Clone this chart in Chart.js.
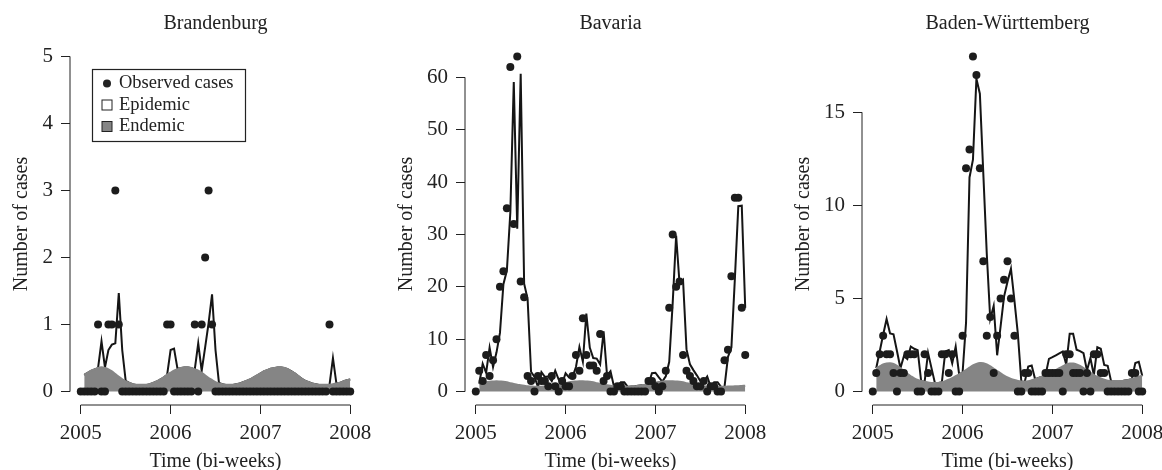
<!DOCTYPE html>
<html>
<head>
<meta charset="utf-8">
<script src="https://cdn.jsdelivr.net/npm/chart.js@4.4.1/dist/chart.umd.min.js"></script>
<style>
  html, body { margin: 0; padding: 0; background: #fff; }
  #wrap { position: relative; width: 1162px; height: 470px; overflow: hidden; }
  canvas { position: absolute; top: 0; }
</style>
</head>
<body>
<div id="wrap">
  <canvas id="c1" width="387" height="470" style="left:0px"></canvas>
  <canvas id="c2" width="388" height="470" style="left:387px"></canvas>
  <canvas id="c3" width="387" height="470" style="left:775px"></canvas>
</div>
<script>
// bi-weekly series, 26 per year, first value at 2005
const startYear = 2005;
const perYear = 26;
const xTicks = [2005, 2006, 2007, 2008];

// Brandenburg
const bbObserved = [
  0, 0, 0, 0, 0, 1, 0, 0, 1, 1, 3, 1, 0,
  0, 0, 0, 0, 0, 0, 0, 0, 0, 0, 0, 0, 1,
  1, 0, 0, 0, 0, 0, 0, 1, 0, 1, 2, 3, 1,
  0, 0, 0, 0, 0, 0, 0, 0, 0, 0, 0, 0, 0,
  0, 0, 0, 0, 0, 0, 0, 0, 0, 0, 0, 0, 0,
  0, 0, 0, 0, 0, 0, 0, 1, 0, 0, 0, 0, 0,
  0
];
const bbEndemic = [
  null, .25, .28, .31, .33, .35, .36, .35, .33, .30, .26, .22, .18,
  .15, .13, .11, .10, .10, .10, .10, .11, .13, .15, .18, .21, .25,
  .28, .31, .33, .35, .36, .36, .35, .33, .31, .28, .24, .20, .17,
  .14, .12, .11, .10, .10, .10, .11, .12, .14, .16, .18, .21, .24,
  .27, .30, .32, .34, .35, .36, .36, .35, .33, .30, .27, .23, .19,
  .16, .14, .12, .11, .10, .10, .10, .10, .11, .12, .13, .15, .17,
  .18
];
const bbFitted = [
  null, .25, .28, .31, .33, .35, .75, .36, .62, .70, .72, 1.47, .62,
  .16, .13, .11, .10, .10, .10, .10, .11, .13, .15, .18, .21, .25,
  .62, .64, .34, .35, .36, .36, .35, .33, .72, .31, .66, 1.02, 1.45,
  .62, .13, .11, .10, .10, .10, .11, .12, .14, .16, .18, .21, .24,
  .27, .30, .32, .34, .35, .36, .36, .35, .33, .30, .27, .23, .19,
  .16, .14, .12, .11, .10, .10, .10, .10, .50, .12, .13, .15, .17,
  .18
];

// Bavaria
const byObserved = [
  0, 4, 2, 7, 3, 6, 10, 20, 23, 35, 62, 32, 64,
  21, 18, 3, 2, 0, 3, 2, 2, 1, 3, 1, 0, 2,
  1, 1, 3, 7, 4, 14, 7, 5, 5, 4, 11, 2, 3,
  0, 0, 1, 1, 0, 0, 0, 0, 0, 0, 0, 2, 2,
  1, 0, 1, 4, 16, 30, 20, 21, 7, 4, 3, 2, 1,
  1, 2, 0, 1, 1, 0, 0, 6, 8, 22, 37, 37, 16,
  7
];
const byEndemic = [
  null, 1.5, 1.6, 1.75, 1.85, 1.9, 1.95, 1.9, 1.85, 1.75, 1.6, 1.45, 1.3,
  1.2, 1.1, 1.0, 0.95, 0.9, 0.9, 0.9, 0.95, 1.0, 1.1, 1.2, 1.35, 1.5,
  1.6, 1.75, 1.85, 1.9, 1.95, 1.95, 1.9, 1.85, 1.75, 1.6, 1.45, 1.3, 1.2,
  1.1, 1.0, 0.95, 0.9, 0.9, 0.9, 0.95, 1.0, 1.1, 1.2, 1.3, 1.45, 1.6,
  1.7, 1.8, 1.9, 1.95, 1.95, 1.95, 1.9, 1.85, 1.75, 1.6, 1.45, 1.3, 1.15,
  1.05, 1.0, 0.95, 0.9, 0.9, 0.9, 0.9, 0.9, 0.95, 0.95, 1.0, 1.0, 1.05,
  1.1
];
const byFitted = [
  null, 1.5, 5.3, 3.6, 8.4, 4.7, 7.5, 11.2, 20.5, 23.1, 34.2, 59.1, 31.1,
  60.7, 20.6, 17.7, 3.8, 2.8, 0.9, 3.7, 2.8, 2.9, 2.0, 4.0, 2.3, 1.5,
  3.5, 2.7, 2.8, 4.7, 8.5, 5.7, 14.9, 8.4, 6.4, 6.3, 5.2, 11.5, 3.1,
  3.9, 1.0, 0.95, 1.8, 1.8, 0.9, 0.95, 1.0, 1.1, 1.2, 1.3, 1.45, 3.5,
  3.6, 2.7, 1.9, 2.9, 5.7, 16.9, 29.8, 20.5, 21.3, 8.1, 5.2, 4.1, 3.1,
  2.0, 1.9, 2.9, 0.9, 1.8, 1.8, 0.9, 0.9, 6.6, 8.4, 21.5, 35.4, 35.5,
  16.0
];

// Baden-Württemberg
const bwObserved = [
  0, 1, 2, 3, 2, 2, 1, 0, 1, 1, 2, 2, 2,
  0, 0, 2, 1, 0, 0, 0, 2, 2, 1, 2, 0, 0,
  3, 12, 13, 18, 17, 12, 7, 3, 4, 1, 3, 5, 6,
  7, 5, 3, 0, 0, 1, 1, 0, 0, 0, 0, 1, 1,
  1, 1, 1, 0, 2, 2, 1, 1, 1, 0, 1, 0, 2,
  2, 1, 1, 0, 0, 0, 0, 0, 0, 0, 1, 1, 0,
  0
];
const bwEndemic = [
  null, 1.25, 1.35, 1.45, 1.5, 1.52, 1.48, 1.38, 1.25, 1.1, 0.95, 0.82, 0.7,
  0.62, 0.56, 0.52, 0.48, 0.46, 0.45, 0.46, 0.5, 0.56, 0.63, 0.72, 0.82, 0.92,
  1.02, 1.15, 1.28, 1.4, 1.48, 1.53, 1.52, 1.45, 1.35, 1.22, 1.1, 0.98, 0.86,
  0.76, 0.68, 0.62, 0.57, 0.54, 0.53, 0.55, 0.6, 0.66, 0.73, 0.8, 0.88, 0.96,
  1.05, 1.15, 1.25, 1.35, 1.45, 1.5, 1.5, 1.45, 1.37, 1.26, 1.13, 1.0, 0.88,
  0.78, 0.7, 0.63, 0.58, 0.55, 0.54, 0.54, 0.56, 0.59, 0.62, 0.67, 0.73, 0.8,
  0.85
];
const bwFitted = [
  null, 1.25, 2.15, 3.05, 3.9, 3.12, 3.08, 2.18, 1.25, 1.9, 1.75, 2.42, 2.3,
  2.22, 0.56, 0.52, 2.08, 1.26, 0.45, 0.46, 0.5, 2.16, 2.23, 1.52, 2.42, 0.92,
  1.02, 3.7, 11.5, 12.45, 16.8, 16.0, 11.7, 7.4, 3.9, 4.6, 1.95, 3.5, 5.1,
  5.9, 6.6, 4.9, 3.1, 0.54, 0.53, 1.35, 1.4, 0.66, 0.73, 0.8, 0.88, 1.76,
  1.85, 1.95, 2.05, 2.15, 1.45, 3.1, 3.1, 2.25, 2.17, 2.06, 1.13, 1.8, 0.88,
  2.38, 2.3, 1.43, 1.38, 0.55, 0.54, 0.54, 0.56, 0.59, 0.62, 0.67, 1.53, 1.6,
  0.85
];

const legendLabels = ['Observed cases', 'Epidemic', 'Endemic'];

const INK = '#222';
const GRAY = '#858585';
const SERIF = '"Liberation Serif", "Times New Roman", serif';

const panels = [
  { canvas: 'c1', title: 'Brandenburg', obs: bbObserved, fit: bbFitted, end: bbEndemic,
    yTicks: [0, 1, 2, 3, 4, 5], yMin: -0.2, yMax: 5.2,
    axisWidth: 70, padRight: 26, yTitlePad: 11.5, legend: true },
  { canvas: 'c2', title: 'Bavaria', obs: byObserved, fit: byFitted, end: byEndemic,
    yTicks: [0, 10, 20, 30, 40, 50, 60], yMin: -2.56, yMax: 66.56,
    axisWidth: 78, padRight: 19, yTitlePad: 10, legend: false },
  { canvas: 'c3', title: 'Baden-Württemberg', obs: bwObserved, fit: bwFitted, end: bwEndemic,
    yTicks: [0, 5, 10, 15], yMin: -0.72, yMax: 18.72,
    axisWidth: 87, padRight: 9, yTitlePad: 19, legend: false }
];

function toPoints(values) {
  return values.map((v, i) => ({ x: startYear + i / perYear, y: v }));
}

// R-style axes: line only between first and last tick, plus title and legend
const rStyle = {
  id: 'rStyle',
  afterDraw(chart, args, opts) {
    const { ctx, chartArea } = chart;
    const x = chart.scales.x, y = chart.scales.y;
    const xt = x.ticks.map(t => t.value);
    const yt = y.ticks.map(t => t.value);
    ctx.save();
    ctx.strokeStyle = INK;
    ctx.lineWidth = 1;
    ctx.beginPath();
    ctx.moveTo(x.getPixelForValue(xt[0]), chartArea.bottom);
    ctx.lineTo(x.getPixelForValue(xt[xt.length - 1]), chartArea.bottom);
    ctx.moveTo(chartArea.left, y.getPixelForValue(yt[0]));
    ctx.lineTo(chartArea.left, y.getPixelForValue(yt[yt.length - 1]));
    ctx.stroke();

    ctx.fillStyle = INK;
    ctx.font = '20px ' + SERIF;
    ctx.textAlign = 'center';
    ctx.textBaseline = 'middle';
    ctx.fillText(opts.title, (chartArea.left + chartArea.right) / 2, 24);

    if (opts.legend) {
      ctx.lineWidth = 1.2;
      ctx.strokeRect(92.5, 69.5, 153, 72);
      ctx.font = '18.5px ' + SERIF;
      ctx.textAlign = 'left';
      const rows = [83.5, 105, 126.5];
      // observed
      ctx.beginPath();
      ctx.arc(107, rows[0], 4, 0, Math.PI * 2);
      ctx.fill();
      // epidemic
      ctx.lineWidth = 1;
      ctx.fillStyle = '#fff';
      ctx.fillRect(102, rows[1] - 5, 10, 10);
      ctx.strokeRect(102, rows[1] - 5, 10, 10);
      // endemic
      ctx.fillStyle = GRAY;
      ctx.fillRect(102, rows[2] - 5, 10, 10);
      ctx.strokeRect(102, rows[2] - 5, 10, 10);
      ctx.fillStyle = INK;
      legendLabels.forEach((lab, i) => ctx.fillText(lab, 119, rows[i]));
    }
    ctx.restore();
  }
};

panels.forEach(p => {
  const ctx = document.getElementById(p.canvas).getContext('2d');
  new Chart(ctx, {
    type: 'line',
    data: {
      datasets: [
        {
          label: 'Observed cases',
          data: toPoints(p.obs),
          showLine: false,
          pointRadius: 4,
          pointBackgroundColor: '#1c1c1c',
          pointBorderWidth: 0,
          order: 0
        },
        {
          label: 'Endemic',
          data: toPoints(p.end),
          borderColor: GRAY,
          backgroundColor: GRAY,
          borderWidth: 2.2,
          fill: 'origin',
          pointRadius: 0,
          tension: 0.3,
          order: 1
        },
        {
          label: 'Epidemic',
          data: toPoints(p.fit),
          borderColor: '#151515',
          borderWidth: 2,
          fill: false,
          pointRadius: 0,
          tension: 0,
          order: 2
        }
      ]
    },
    options: {
      responsive: false,
      animation: false,
      devicePixelRatio: 1,
      layout: { padding: { top: 43, right: p.padRight, bottom: 0, left: 0 } },
      plugins: {
        legend: { display: false },
        tooltip: { enabled: false },
        rStyle: { title: p.title, legend: p.legend }
      },
      scales: {
        x: {
          type: 'linear',
          min: 2004.88,
          max: 2008.12,
          afterBuildTicks: s => { s.ticks = xTicks.map(v => ({ value: v })); },
          afterFit: s => { s.height = 65; s.paddingLeft = 0; s.paddingRight = 0; },
          grid: { display: true, drawOnChartArea: false, drawTicks: true, tickLength: 9, color: INK, lineWidth: 1 },
          border: { display: false },
          ticks: {
            autoSkip: false, maxRotation: 0, padding: 7, color: INK,
            font: { family: SERIF, size: 21 },
            callback: v => String(v)
          },
          title: {
            display: true, text: 'Time (bi-weeks)', color: INK,
            font: { family: SERIF, size: 20, lineHeight: 0.8 }, padding: 0
          }
        },
        y: {
          type: 'linear',
          min: p.yMin,
          max: p.yMax,
          afterBuildTicks: s => { s.ticks = p.yTicks.map(v => ({ value: v })); },
          afterFit: s => { s.width = p.axisWidth; s.paddingTop = 0; s.paddingBottom = 0; },
          grid: { display: true, drawOnChartArea: false, drawTicks: true, tickLength: 9, color: INK, lineWidth: 1 },
          border: { display: false },
          ticks: {
            padding: 8, color: INK,
            font: { family: SERIF, size: 21 },
            callback: v => String(v)
          },
          title: {
            display: true, text: 'Number of cases', color: INK,
            font: { family: SERIF, size: 20, lineHeight: 1 },
            padding: { top: p.yTitlePad, bottom: 0 }
          }
        }
      }
    },
    plugins: [rStyle]
  });
});
</script>
</body>
</html>
